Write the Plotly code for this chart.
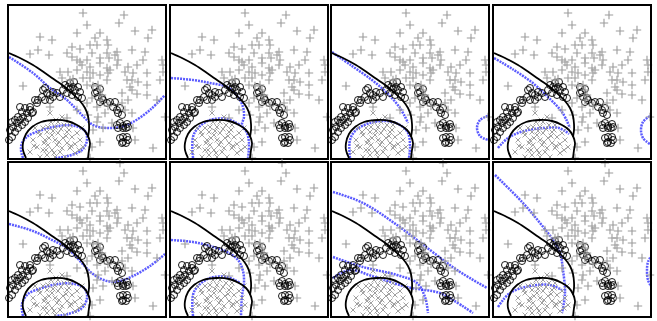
import plotly.graph_objects as go

# ---- shared sample data (same in all 8 panels) ----
plus_x = [111,115,74,110,78,126,143,68,91,98,86,31,43,139,81,88,99,63,29,71,108,123,136,21,40,58,83,98,106,63,68,71,78,91,100,109,134,153,73,81,91,98,101,108,119,128,154,51,59,68,78,84,91,99,116,124,138,154,53,61,74,81,98,118,123,129,151,14,78,84,121,138,123,113,128,138,119,148,83,91,78,88,99,113,41,68,79,89,96,116,123,58,88,103,156,84,94,124,91,126,83,144,81,91,93,89,64]
plus_y = [153,143,145,135,133,127,128,125,125,118,120,121,118,120,113,113,113,111,108,109,106,108,106,104,103,105,105,105,103,101,98,96,98,100,100,98,98,98,93,91,95,90,88,93,91,93,93,86,86,88,86,85,83,85,86,85,85,86,80,78,80,80,78,78,78,76,78,72,73,72,71,73,68,65,64,63,58,58,60,58,55,51,52,55,51,48,43,41,45,48,45,40,36,35,41,28,30,30,16,18,11,10,0,68,63,73,79]

circ_x = [56,61,65,69,71,66,61,58,63,69,73,54,64,59,
          34,38,33,41,44,44,41,36,29,26,28,36,48,51,
          11,16,21,13,18,23,14,19,9,6,3,8,13,4,9,1,6,3,0,11,16,21,24,
          86,91,86,89,93,94,98,91,101,88,
          106,104,108,109,111,113,
          108,111,114,118,109,114,117,119,
          111,114,118,114,119,113,117]
circ_y = [73,75,76,71,66,68,69,65,63,61,60,68,71,71,
          68,65,61,63,61,66,58,58,58,58,55,70,65,61,
          51,50,48,46,45,45,41,40,41,38,36,35,33,31,30,28,26,21,18,38,36,51,46,
          71,69,65,61,60,58,55,56,56,66,
          56,51,48,45,50,43,
          33,35,32,34,30,30,30,31,
          20,21,21,16,18,15,15]

cross_x = [41,53,34,46,38,43,49,58,31,24,36,46,54,63,68,39,48,58,71,28,34,43,51,61,38,46,21,74,66,56,31,39,49,61,73,26,
           44,52,40,50,57,62,45,53,35,66,42,55,30,47,60,70,25,37]
cross_y = [45,41,30,31,26,23,25,26,23,18,18,18,20,21,25,13,13,15,18,11,8,8,6,10,3,1,6,11,5,1,1,31,36,33,30,30,
           27,29,20,16,22,12,5,10,15,14,36,33,26,38,28,8,12,8]

# ---- black reference boundary (same in all panels) ----
black_up_x = [0,11,24,36,46,56,64,71,76,79,80,80,79]
black_up_y = [105,100,93,85,78,71,64,57,50,42,34,28,21]
black_el_x = [17,14,14,17,23,32,46,58,68,75,79,81,80,79]
black_el_y = [0,8,15,24,31,36,38,37,33,28,22,15,8,0]

# ---- blue dotted boundaries, one set per panel ----
b1a_x = [0,24,41,58,71,84,98,111,124,141,156]
b1a_y = [101,85,70,58,45,33,30,31,36,48,63]
b1b_x = [14,12,13,19,33,49,66,76,78,73,59,46]
b1b_y = [0,8,15,22,28,32,32,27,18,8,2,0]

b2a_x = [0,22,39,56,67,72,73,71,76,78,77]
b2a_y = [80,78,75,71,61,51,41,33,25,15,0]
b2b_x = [22,22,27,39,56,69]
b2b_y = [0,21,30,38,39,33]

b3a_x = [0,20,40,55,68,76]
b3a_y = [106,92,78,65,50,35]
b3b_x = [18,18,24,38,55,68,76,78,77]
b3b_y = [0,18,28,35,37,33,25,12,0]
b3c_x = [156,148,145,148,156]
b3c_y = [42,38,30,22,18]

b4a_x = [0,20,40,55,68,76]
b4a_y = [100,88,74,60,46,30]
b4b_x = [4,14,30,50,65,75]
b4b_y = [10,20,27,30,30,24]
b4c_x = [156,149,147,149,156]
b4c_y = [42,36,28,20,14]

b5a_x = [0,24,41,58,71,84,98,111,124,141,156]
b5a_y = [92,85,77,68,55,42,35,35,40,50,62]
b5b_x = [14,13,19,33,49,66,76,78,73,59,46]
b5b_y = [0,12,22,28,32,32,27,18,8,2,0]

b6a_x = [0,22,39,56,67,72,73,71,70]
b6a_y = [76,74,70,64,56,45,33,20,0]
b6b_x = [22,22,27,39,56,69]
b6b_y = [0,21,30,38,39,33]

b7a_x = [1,31,65,98,125,155]
b7a_y = [124,113,91,66,46,28]
b7b_x = [1,31,65,85,93,96]
b7b_y = [59,49,41,33,19,3]
b7c_x = [1,18,40,75,108,121,141]
b7c_y = [38,46,40,29,23,16,3]

b8a_x = [1,29,46,59,66,69,71,68]
b8a_y = [141,113,93,76,63,46,23,3]
b8b_x = [4,16,36,56,68]
b8b_y = [9,23,30,31,26]
b8c_x = [158,154,153,154,158]
b8c_y = [61,54,46,36,28]

blue_sets = [
    [(b1a_x, b1a_y), (b1b_x, b1b_y)],
    [(b2a_x, b2a_y), (b2b_x, b2b_y)],
    [(b3a_x, b3a_y), (b3b_x, b3b_y), (b3c_x, b3c_y)],
    [(b4a_x, b4a_y), (b4b_x, b4b_y), (b4c_x, b4c_y)],
    [(b5a_x, b5a_y), (b5b_x, b5b_y)],
    [(b6a_x, b6a_y), (b6b_x, b6b_y)],
    [(b7a_x, b7a_y), (b7b_x, b7b_y), (b7c_x, b7c_y)],
    [(b8a_x, b8a_y), (b8b_x, b8b_y), (b8c_x, b8c_y)],
]

W, H = 657, 321
lefts = [9, 171, 332, 494]
tops = [6, 163]
pw = 156
ph = [152, 153]

fig = go.Figure()
layout = dict(width=W, height=H, margin=dict(l=0, r=0, t=0, b=0),
              paper_bgcolor="white", plot_bgcolor="white", showlegend=False)

for i in range(8):
    r, c = divmod(i, 4)
    n = i + 1
    xa = "x" if n == 1 else f"x{n}"
    ya = "y" if n == 1 else f"y{n}"
    x0 = lefts[c] / W
    x1 = (lefts[c] + pw) / W
    y1 = 1 - tops[r] / H
    y0 = 1 - (tops[r] + ph[r]) / H
    axcommon = dict(showgrid=False, zeroline=False, showticklabels=False, ticks="",
                    showline=True, mirror=True, linecolor="black", linewidth=1.5)
    layout["xaxis" if n == 1 else f"xaxis{n}"] = dict(domain=[x0, x1], range=[0, pw],
                                                       anchor=ya, **axcommon)
    layout["yaxis" if n == 1 else f"yaxis{n}"] = dict(domain=[y0, y1], range=[0, ph[r]],
                                                       anchor=xa, **axcommon)

    for bx, by in blue_sets[i]:
        fig.add_trace(go.Scatter(x=bx, y=by, mode="lines", xaxis=xa, yaxis=ya,
                                 line=dict(color="rgba(50,50,255,0.8)", width=2.5,
                                           dash="2px,1px", shape="spline"),
                                 hoverinfo="skip"))
    fig.add_trace(go.Scatter(x=cross_x, y=cross_y, mode="markers", xaxis=xa, yaxis=ya,
                             marker=dict(symbol="x-thin", size=5,
                                         line=dict(color="rgb(150,150,150)", width=0.9)),
                             cliponaxis=False))
    fig.add_trace(go.Scatter(x=circ_x, y=circ_y, mode="markers", xaxis=xa, yaxis=ya,
                             marker=dict(symbol="circle-open", size=7, color="black",
                                         line=dict(color="black", width=0.9)),
                             cliponaxis=False))
    fig.add_trace(go.Scatter(x=plus_x, y=plus_y, mode="markers", xaxis=xa, yaxis=ya,
                             marker=dict(symbol="cross-thin", size=6,
                                         line=dict(color="rgb(155,155,155)", width=1.1)),
                             cliponaxis=False))
    for bx, by in [(black_up_x, black_up_y), (black_el_x, black_el_y)]:
        fig.add_trace(go.Scatter(x=bx, y=by, mode="lines", xaxis=xa, yaxis=ya,
                                 line=dict(color="black", width=1.8, shape="spline"),
                                 hoverinfo="skip"))

fig.update_layout(**layout)
fig.write_html("out.html", config={"displayModeBar": False},
               post_script="document.body.style.margin='0';")
